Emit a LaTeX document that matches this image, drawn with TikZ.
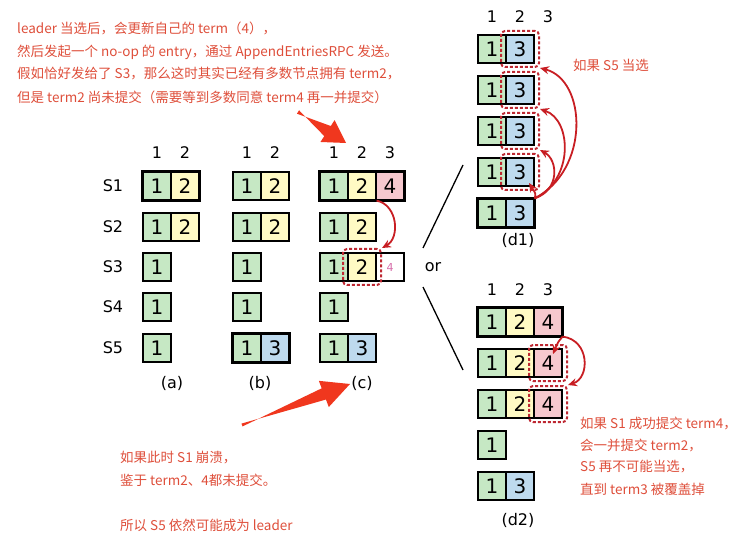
\documentclass[tikz,border=0pt]{standalone}
\usepackage{fontspec}
\setmainfont{DejaVu Sans}
\newfontfamily\cjk{Noto Sans CJK SC}
\usetikzlibrary{arrows.meta,calc}

\definecolor{termone}{RGB}{198,232,196}
\definecolor{termtwo}{RGB}{255,250,196}
\definecolor{termthree}{RGB}{190,218,238}
\definecolor{termfour}{RGB}{246,200,206}
\definecolor{dashred}{RGB}{190,40,50}
\definecolor{arcred}{RGB}{200,30,35}
\definecolor{notered}{RGB}{222,78,58}
\definecolor{bigred}{RGB}{240,55,30}
\definecolor{softpink}{RGB}{215,110,170}

\tikzset{
    cell/.style={draw, line width=1.2pt, minimum size=28pt, inner sep=0pt,
                 font=\fontsize{20}{20}\selectfont},
    e0/.style={cell, fill=white, font=\fontsize{11}{11}\selectfont, text=softpink},
    e1/.style={cell, fill=termone},
    e2/.style={cell, fill=termtwo},
    e3/.style={cell, fill=termthree},
    e4/.style={cell, fill=termfour},
    lead/.style={draw, line width=3pt},
    pending/.style={draw=dashred, line width=2pt, dash pattern=on 3pt off 2pt,
                    rounded corners=4pt, minimum width=38pt, minimum height=36pt,
                    inner sep=0pt},
    replarc/.style={draw=arcred, line width=1.8pt, -{Stealth[length=9pt,width=8pt]}},
    hdr/.style={font=\fontsize{16}{16}\selectfont},
    srv/.style={font=\fontsize{16}{16}\selectfont},
    capt/.style={font=\fontsize{16}{16}\selectfont},
    note/.style={anchor=west, inner sep=0pt, text=notered,
                 font=\cjk\fontsize{13.5}{13.5}\selectfont},
}

\begin{document}
\begin{tikzpicture}[x=1pt,y=-1pt]
    \useasboundingbox (0,0) rectangle (744,537);

    % column numbers
    \node[hdr] (ha1) at (157,153) {1};
    \node[hdr] (ha2) at (185,153) {2};
    \node[hdr] (hb1) at (247,153) {1};
    \node[hdr] (hb2) at (275,153) {2};
    \node[hdr] (hc1) at (334,153) {1};
    \node[hdr] (hc2) at (362,153) {2};
    \node[hdr] (hc3) at (390,153) {3};
    \node[hdr] (hd11) at (492,17) {1};
    \node[hdr] (hd12) at (520,17) {2};
    \node[hdr] (hd13) at (548,17) {3};
    \node[hdr] (hd21) at (492,290) {1};
    \node[hdr] (hd22) at (520,290) {2};
    \node[hdr] (hd23) at (548,290) {3};

    % servers
    \node[srv] (s1) at (113,186) {S1};
    \node[srv] (s2) at (113,227) {S2};
    \node[srv] (s3) at (113,267) {S3};
    \node[srv] (s4) at (113,307) {S4};
    \node[srv] (s5) at (113,348) {S5};

    %%% (a)
    \node[e1] (a11) at (157,186) {1};
    \node[e2] (a12) at (185,186) {2};
    \node[e1] (a21) at (157,227) {1};
    \node[e2] (a22) at (185,227) {2};
    \node[e1] (a31) at (157,267) {1};
    \node[e1] (a41) at (157,307) {1};
    \node[e1] (a51) at (157,348) {1};
    \draw[lead] (a11.north west) rectangle (a12.south east);

    %%% (b)
    \node[e1] (b11) at (247,186) {1};
    \node[e2] (b12) at (275,186) {2};
    \node[e1] (b21) at (247,227) {1};
    \node[e2] (b22) at (275,227) {2};
    \node[e1] (b31) at (247,267) {1};
    \node[e1] (b41) at (247,307) {1};
    \node[e1] (b51) at (247,348) {1};
    \node[e3] (b52) at (275,348) {3};
    \draw[lead] (b51.north west) rectangle (b52.south east);

    %%% (c)
    \node[e1] (c11) at (334,186) {1};
    \node[e2] (c12) at (362,186) {2};
    \node[e4] (c13) at (390,186) {4};
    \node[e1] (c21) at (334,227) {1};
    \node[e2] (c22) at (362,227) {2};
    \node[e1] (c31) at (334,267) {1};
    \node[e2] (c32) at (362,267) {2};
    \node[e0] (c33) at (390,267) {4};
    \node[e1] (c41) at (334,307) {1};
    \node[e1] (c51) at (334,348) {1};
    \node[e3] (c52) at (362,348) {3};
    \draw[lead] (c11.north west) rectangle (c13.south east);
    \node[pending] (pc32) at (c32) {};
    \draw[replarc] (c12.south east) .. controls (398,205) and (400,238) .. (pc32.north east);

    \node[capt] (capa) at (172,383) {(a)};
    \node[capt] (capb) at (260,383) {(b)};
    \node[capt] (capc) at (362,383) {(c)};

    %%% or
    \node[hdr] (or) at (433,267) {or};
    \coordinate (orup) at (423,248);
    \coordinate (ordn) at (423,287);
    \coordinate (toup) at (463,165);
    \coordinate (todn) at (463,370);
    \draw[line width=1.3pt] (orup) -- (toup);
    \draw[line width=1.3pt] (ordn) -- (todn);

    %%% (d1)
    \node[e1] (da11) at (492,49) {1};
    \node[e3] (da12) at (520,49) {3};
    \node[e1] (da21) at (492,90) {1};
    \node[e3] (da22) at (520,90) {3};
    \node[e1] (da31) at (492,131) {1};
    \node[e3] (da32) at (520,131) {3};
    \node[e1] (da41) at (492,172) {1};
    \node[e3] (da42) at (520,172) {3};
    \node[e1] (da51) at (492,213) {1};
    \node[e3] (da52) at (520,213) {3};
    \draw[lead] (da51.north west) rectangle (da52.south east);
    \node[pending] (pda12) at (da12) {};
    \node[pending] (pda22) at (da22) {};
    \node[pending] (pda32) at (da32) {};
    \node[pending] (pda42) at (da42) {};
    \draw[replarc] (da52.north east) .. controls (590,170) and (587,80) .. (pda12.south east);
    \draw[replarc] (da52.north east) .. controls (574,180) and (572,120) .. (pda22.south east);
    \draw[replarc] (da52.north east) .. controls (560,190) and (558,160) .. (pda32.south east);
    \draw[replarc] (da52.north east) .. controls (536,194) .. (529,183);
    \node[capt] (capd1) at (518,240) {(d1)};

    %%% (d2)
    \node[e1] (db11) at (492,322) {1};
    \node[e2] (db12) at (520,322) {2};
    \node[e4] (db13) at (548,322) {4};
    \node[e1] (db21) at (492,363) {1};
    \node[e2] (db22) at (520,363) {2};
    \node[e4] (db23) at (548,363) {4};
    \node[e1] (db31) at (492,404) {1};
    \node[e2] (db32) at (520,404) {2};
    \node[e4] (db33) at (548,404) {4};
    \node[e1] (db41) at (492,445) {1};
    \node[e1] (db51) at (492,486) {1};
    \node[e3] (db52) at (520,486) {3};
    \draw[lead] (db11.north west) rectangle (db13.south east);
    \node[pending] (pdb23) at (db23) {};
    \node[pending] (pdb33) at (db33) {};
    \draw[replarc] (db13.south east) .. controls (558,342) .. (553,354);
    \draw[replarc] (db13.south east) .. controls (590,340) and (590,378) .. (pdb33.north east);
    \node[capt] (capd2) at (518,520) {(d2)};

    %%% big arrows
    \coordinate (tailA) at (298,112);
    \coordinate (tipA) at (346,143);
    \coordinate (headA) at ($(tipA)!22pt!(tailA)$);
    \fill[bigred] ($(tailA)!2pt!90:(tipA)$) -- ($(headA)!6pt!-90:(tipA)$)
        -- ($(headA)!13pt!-90:(tipA)$) -- (tipA) -- ($(headA)!13pt!90:(tipA)$)
        -- ($(headA)!6pt!90:(tipA)$) -- ($(tailA)!2pt!-90:(tipA)$) -- cycle;

    \coordinate (tailB) at (242,425);
    \coordinate (tipB) at (350,384);
    \coordinate (headB) at ($(tipB)!28pt!(tailB)$);
    \fill[bigred] ($(tailB)!1.5pt!90:(tipB)$) -- ($(headB)!6pt!-90:(tipB)$)
        -- ($(headB)!14pt!-90:(tipB)$) -- (tipB) -- ($(headB)!14pt!90:(tipB)$)
        -- ($(headB)!6pt!90:(tipB)$) -- ($(tailB)!1.5pt!-90:(tipB)$) -- cycle;

    %%% notes
    \node[note] (n1) at (17,28) {leader 当选后，会更新自己的 term（4），};
    \node[note] (n2) at (17,52) {然后发起一个 no-op 的 entry，通过 AppendEntriesRPC 发送。};
    \node[note] (n3) at (17,74) {假如恰好发给了 S3，那么这时其实已经有多数节点拥有 term2，};
    \node[note] (n4) at (17,97) {但是 term2 尚未提交（需要等到多数同意 term4 再一并提交）};

    \node[note] (m1) at (573,65) {如果 S5 当选};

    \node[note] (k1) at (580,423) {如果 S1 成功提交 term4，};
    \node[note] (k2) at (580,445) {会一并提交 term2，};
    \node[note] (k3) at (580,467) {S5 再不可能当选，};
    \node[note] (k4) at (580,489) {直到 term3 被覆盖掉};

    \node[note] (q1) at (120,458) {如果此时 S1 崩溃，};
    \node[note] (q2) at (120,480) {鉴于 term2、4都未提交。};
    \node[note] (q3) at (120,525) {所以 S5 依然可能成为 leader};
\end{tikzpicture}
\end{document}
